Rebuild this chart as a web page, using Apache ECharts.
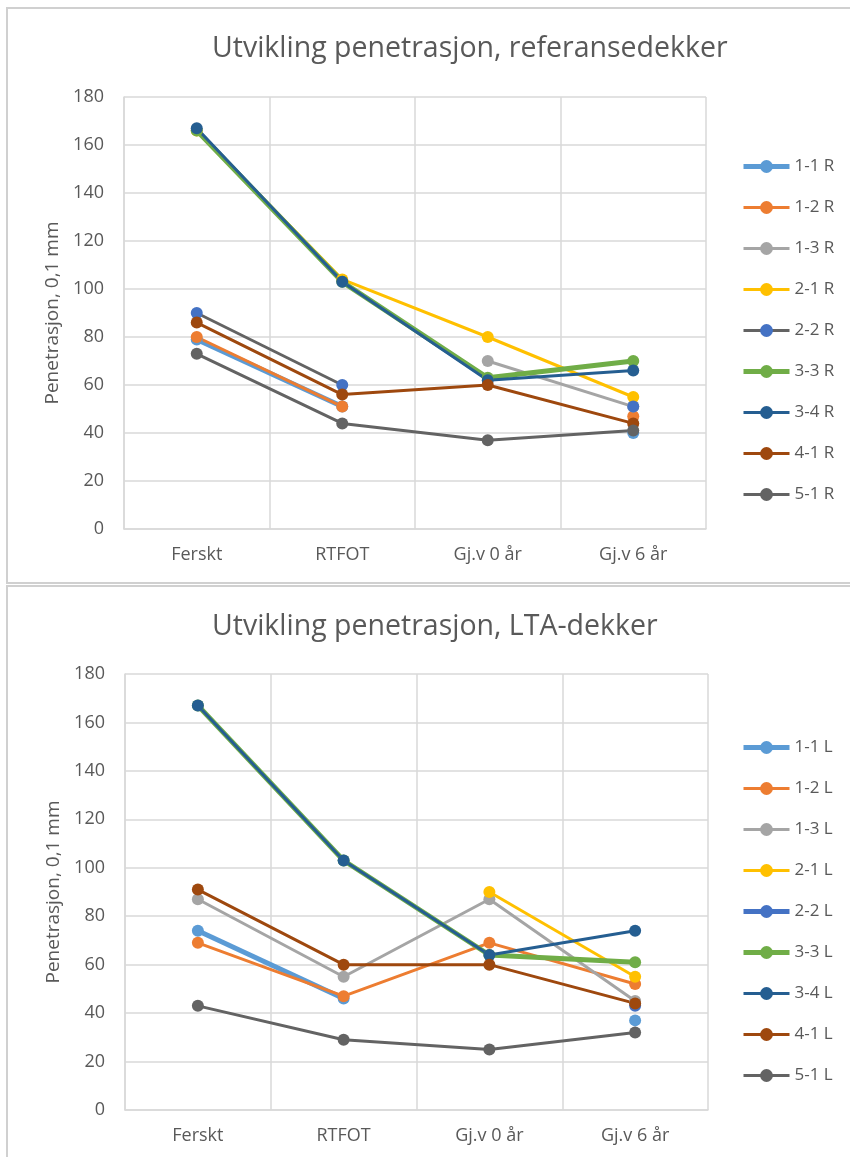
<!DOCTYPE html>
<html>
<head>
<meta charset="utf-8">
<script src="https://cdn.jsdelivr.net/npm/echarts@6/dist/echarts.min.js"></script>
<style>
  html, body { margin: 0; padding: 0; background: #fff; }
  #chart { width: 850px; height: 1157px; }
</style>
</head>
<body>
<div id="chart"></div>
<script>
// Stages at which penetration was measured
const categories = ['Ferskt', 'RTFOT', 'Gj.v 0 år', 'Gj.v 6 år'];

// Reference surfacings (penetration, 0.1 mm)
const r11 = [79, 51, null, 40];
const r12 = [80, 51, null, 47];
const r13 = [null, null, 70, 51];
const r21 = [166, 104, 80, 55];
const r22 = [90, 60, null, 51];
const r33 = [166, 103, 63, 70];
const r34 = [167, 103, 62, 66];
const r41 = [86, 56, 60, 44];
const r51 = [73, 44, 37, 41];

// LTA surfacings (penetration, 0.1 mm)
const l11 = [74, 46, null, 37];
const l12 = [69, 47, 69, 52];
const l13 = [87, 55, 87, 45];
const l21 = [null, null, 90, 55];
const l22 = [null, null, null, 43];
const l33 = [167, 103, 64, 61];
const l34 = [167, 103, 64, 74];
const l41 = [91, 60, 60, 44];
const l51 = [43, 29, 25, 32];

const yTicks = { min: 0, max: 180, interval: 20 };

const TXT = '#595959';
const GRID = '#d9d9d9';
const FONT = '"Open Sans", "Noto Sans", sans-serif';
const THIN = 3;
const THICK = 5;

function mkSeries(name, data, idx, lineColor, markerColor, width) {
  return {
    name: name,
    type: 'line',
    xAxisIndex: idx,
    yAxisIndex: idx,
    data: data,
    symbol: 'circle',
    symbolSize: 12,
    connectNulls: false,
    animation: false,
    lineStyle: { color: lineColor, width: width },
    itemStyle: { color: markerColor },
    emphasis: { disabled: true }
  };
}

const topSeries = [
  mkSeries('1-1 R', r11, 0, '#5B9BD5', '#5B9BD5', THICK),
  mkSeries('1-2 R', r12, 0, '#ED7D31', '#ED7D31', THIN),
  mkSeries('1-3 R', r13, 0, '#A5A5A5', '#A5A5A5', THIN),
  mkSeries('2-1 R', r21, 0, '#FFC000', '#FFC000', THIN),
  mkSeries('2-2 R', r22, 0, '#636363', '#4472C4', THIN),
  mkSeries('3-3 R', r33, 0, '#70AD47', '#70AD47', THICK),
  mkSeries('3-4 R', r34, 0, '#255E91', '#255E91', THIN),
  mkSeries('4-1 R', r41, 0, '#9E480E', '#9E480E', THIN),
  mkSeries('5-1 R', r51, 0, '#636363', '#636363', THIN)
];

const bottomSeries = [
  mkSeries('1-1 L', l11, 1, '#5B9BD5', '#5B9BD5', THICK),
  mkSeries('1-2 L', l12, 1, '#ED7D31', '#ED7D31', THIN),
  mkSeries('1-3 L', l13, 1, '#A5A5A5', '#A5A5A5', THIN),
  mkSeries('2-1 L', l21, 1, '#FFC000', '#FFC000', THIN),
  mkSeries('2-2 L', l22, 1, '#4472C4', '#4472C4', THICK),
  mkSeries('3-3 L', l33, 1, '#70AD47', '#70AD47', THICK),
  mkSeries('3-4 L', l34, 1, '#255E91', '#255E91', THIN),
  mkSeries('4-1 L', l41, 1, '#9E480E', '#9E480E', THIN),
  mkSeries('5-1 L', l51, 1, '#636363', '#636363', THIN)
];

function xAxis(gridIndex) {
  return {
    type: 'category',
    gridIndex: gridIndex,
    data: categories,
    boundaryGap: true,
    axisLine: { show: true, lineStyle: { color: GRID, width: 1.5 } },
    axisTick: { show: false },
    axisLabel: { color: TXT, fontSize: 18, fontFamily: FONT, margin: 17 },
    splitLine: { show: true, lineStyle: { color: GRID, width: 1.5 } }
  };
}

function yAxis(gridIndex) {
  return {
    type: 'value',
    gridIndex: gridIndex,
    min: yTicks.min,
    max: yTicks.max,
    interval: yTicks.interval,
    name: 'Penetrasjon, 0,1 mm',
    nameLocation: 'middle',
    nameGap: 62,
    nameTextStyle: { color: TXT, fontSize: 19, fontFamily: FONT },
    axisLine: { show: true, lineStyle: { color: GRID, width: 1.5 } },
    axisTick: { show: false },
    axisLabel: { color: TXT, fontSize: 18, fontFamily: FONT, margin: 20 },
    splitLine: { show: true, lineStyle: { color: GRID, width: 1.5 } }
  };
}

function legend(top, names) {
  return {
    data: names,
    orient: 'vertical',
    left: 741,
    top: top,
    padding: 0,
    itemWidth: 46,
    itemHeight: 16,
    itemGap: 24,
    lineStyle: { width: 'inherit' },
    textStyle: { color: TXT, fontSize: 17, lineHeight: 16, fontFamily: FONT },
    selectedMode: false
  };
}

const chart = echarts.init(document.getElementById('chart'), null, { renderer: 'canvas' });

chart.setOption({
  backgroundColor: '#ffffff',
  animation: false,
  graphic: [
    { type: 'rect', shape: { x: 7, y: 8, width: 900, height: 575 },
      style: { fill: 'none', stroke: '#d0d0d0', lineWidth: 2 }, z: -1 },
    { type: 'rect', shape: { x: 7, y: 586, width: 900, height: 600 },
      style: { fill: 'none', stroke: '#d0d0d0', lineWidth: 2 }, z: -1 }
  ],
  title: [
    { text: 'Utvikling penetrasjon, referansedekker', left: 207, top: 29,
      textStyle: { color: TXT, fontSize: 28.5, fontWeight: 'normal', fontFamily: FONT } },
    { text: 'Utvikling penetrasjon, LTA-dekker', left: 207, top: 607,
      textStyle: { color: TXT, fontSize: 28.5, fontWeight: 'normal', fontFamily: FONT } }
  ],
  legend: [
    legend(158, topSeries.map(s => s.name)),
    legend(739, bottomSeries.map(s => s.name))
  ],
  grid: [
    { left: 124, top: 97, width: 582, height: 432 },
    { left: 125, top: 674, width: 583, height: 436 }
  ],
  xAxis: [xAxis(0), xAxis(1)],
  yAxis: [yAxis(0), yAxis(1)],
  series: topSeries.concat(bottomSeries)
});
</script>
</body>
</html>
